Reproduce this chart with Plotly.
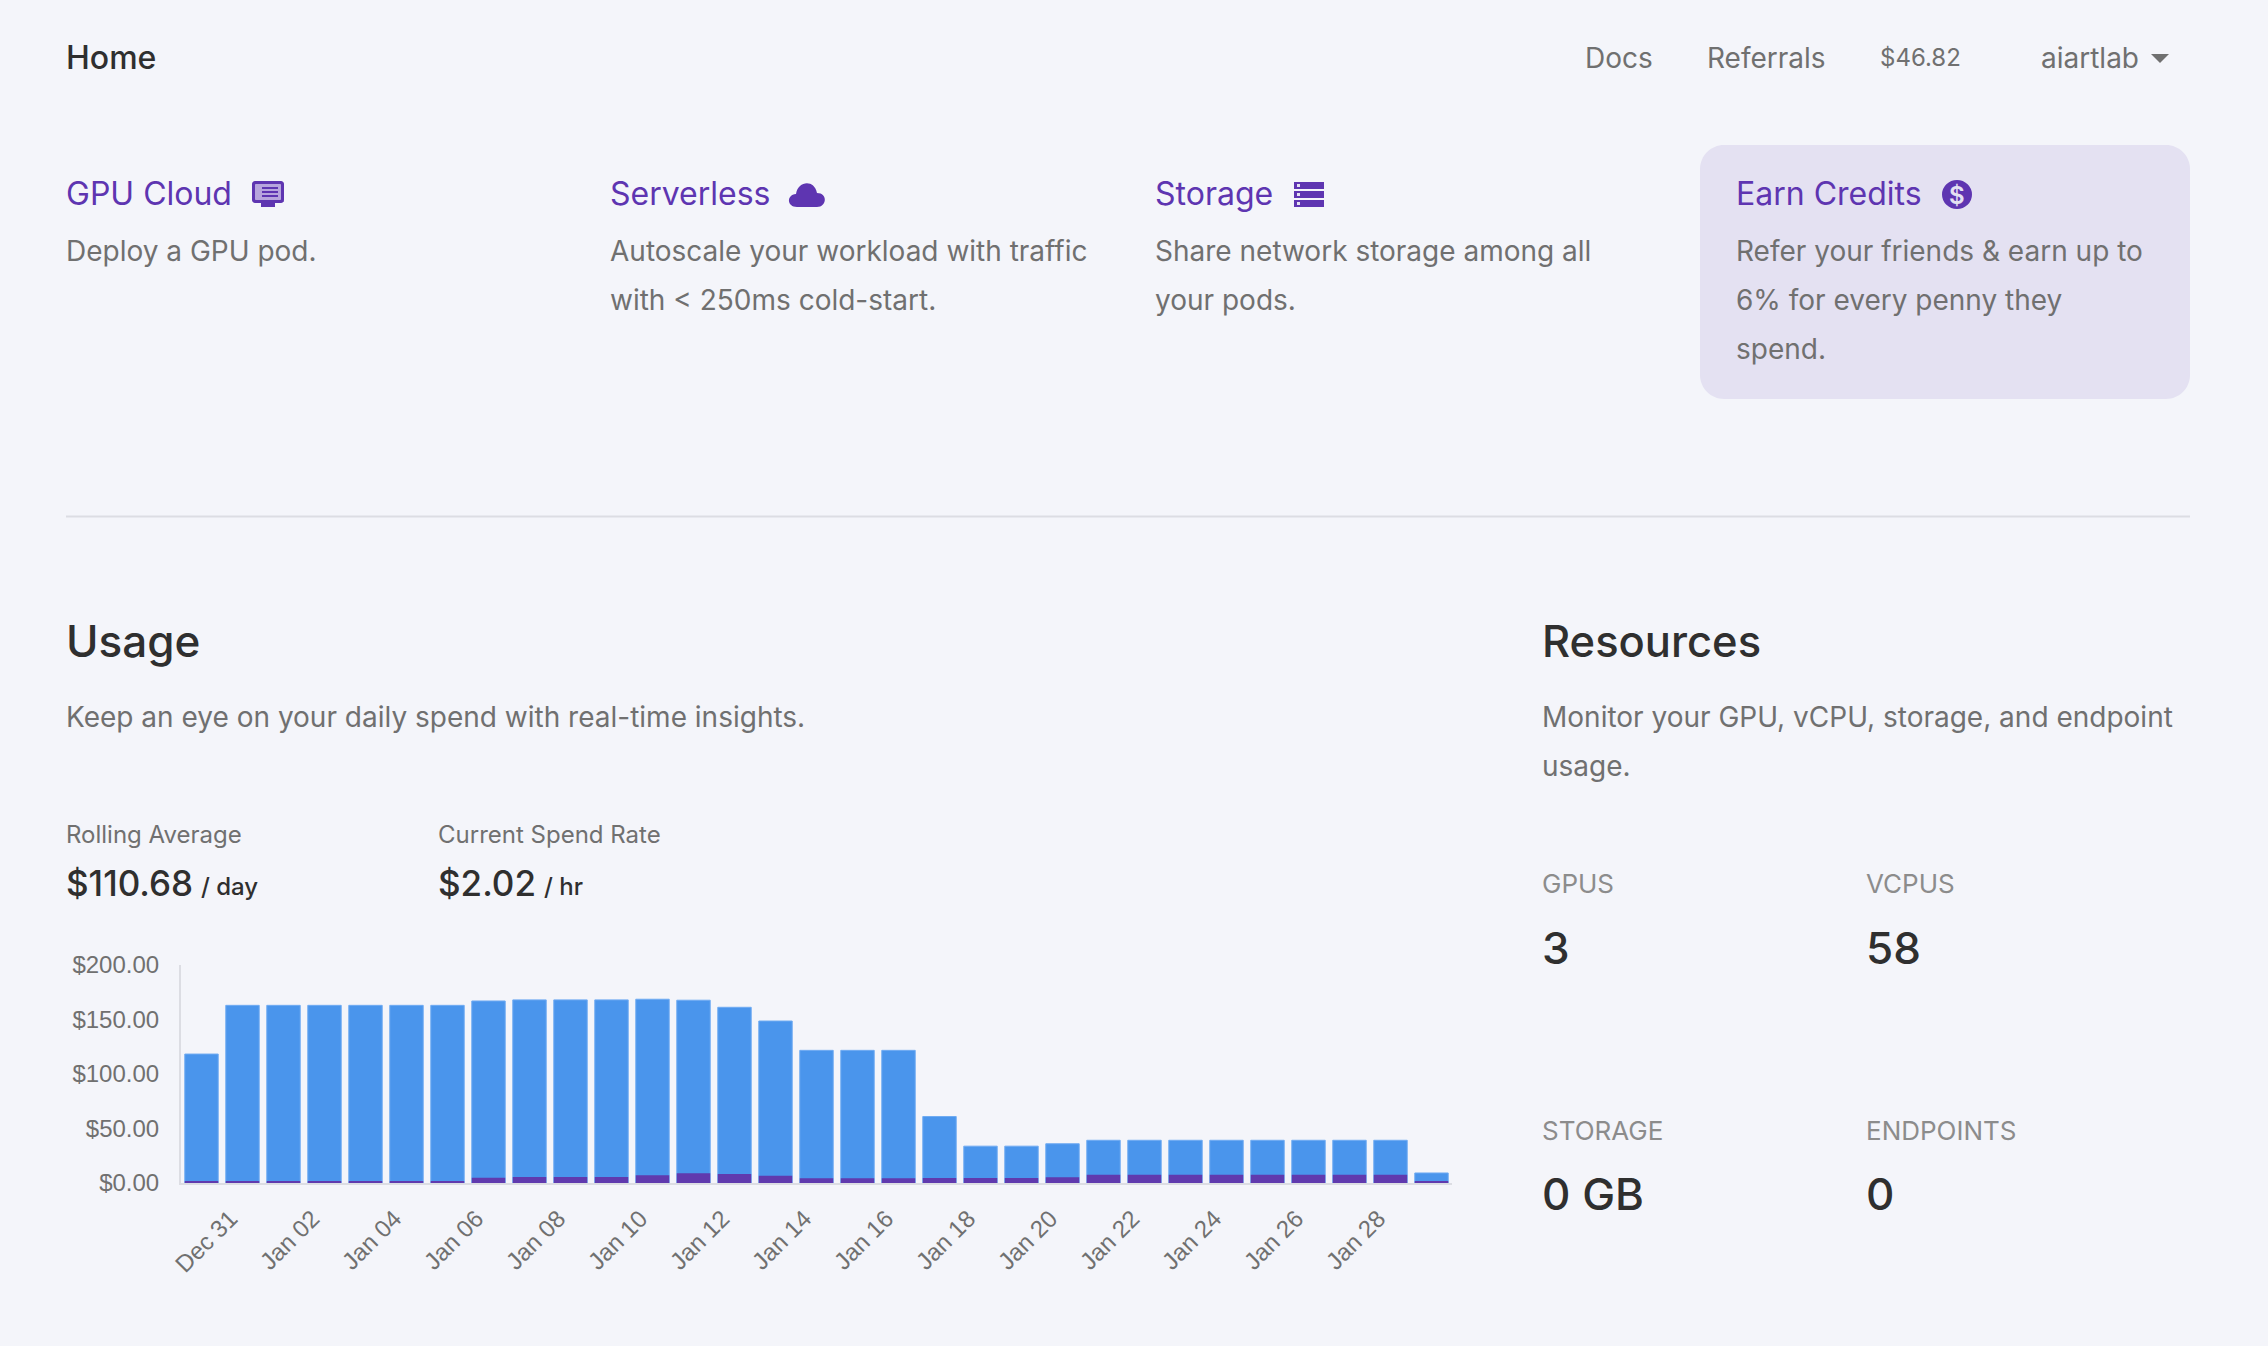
import plotly.graph_objects as go

W, H = 2268, 1346
BG = "#f4f5fa"
PURPLE = "#5e35b1"
BAR_PURPLE = "#603aae"
BLUE = "#4a95ec"
GREY = "#707070"
DARK = "#2f2f2f"
LINE = "#dcdde3"
FONT = "Inter"

days = ["Dec 30", "Dec 31"] + ["Jan %02d" % d for d in range(1, 30)]
tick_days = ["Dec 31"] + ["Jan %02d" % d for d in range(2, 29, 2)]
totals = [118.3, 163, 163, 163, 163, 163, 163, 167, 168, 168, 168, 168.6, 167.7, 161.2, 148.6, 121.7,
          121.7, 121.7, 61, 33.8, 33.8, 36, 39.2, 39.2, 39.2, 39.2, 39.2, 39.2, 39.2, 39.2, 9.2]
purple_part = [1.8, 1.8, 1.8, 1.8, 1.8, 1.8, 1.8, 4.9, 5.5, 5.5, 5.5, 7, 8.9, 8.3, 6.7, 4.3,
               4.3, 4.3, 4.6, 4.6, 4.6, 5.2, 7.6, 7.6, 7.6, 7.6, 7.6, 7.6, 7.6, 7.6, 1.8]


def px(x):
    return x / W


def py(y):
    return 1 - y / H


def label(x, y, text, size, color=GREY, weight=400, family=FONT):
    fig.add_annotation(xref="paper", yref="paper", x=px(x), y=py(y), text=text, showarrow=False,
                       xanchor="left", yanchor="middle", align="left",
                       font=dict(family=family, size=size, color=color, weight=weight),
                       borderpad=0, borderwidth=0)


def path_shape(d, fill, line=None):
    # d is written in page pixels, converted here to paper coords
    out = []
    for tok in d.split():
        if "," in tok:
            a, b = tok.split(",")
            out.append("%.5f,%.5f" % (px(float(a)), py(float(b))))
        else:
            out.append(tok)
    fig.add_shape(type="path", xref="paper", yref="paper", path=" ".join(out), fillcolor=fill,
                  line=dict(width=0 if line is None else 2, color=line or fill), layer="below")


def box(x0, y0, x1, y1, fill):
    fig.add_shape(type="rect", xref="paper", yref="paper", x0=px(x0), x1=px(x1), y0=py(y0), y1=py(y1),
                  fillcolor=fill, line=dict(width=0), layer="below")


def rounded(x0, y0, x1, y1, r, fill):
    k = r * 0.45
    path_shape(f"M {x0+r},{y0} L {x1-r},{y0} C {x1-k},{y0} {x1},{y0+k} {x1},{y0+r} "
               f"L {x1},{y1-r} C {x1},{y1-k} {x1-k},{y1} {x1-r},{y1} "
               f"L {x0+r},{y1} C {x0+k},{y1} {x0},{y1-k} {x0},{y1-r} "
               f"L {x0},{y0+r} C {x0},{y0+k} {x0+k},{y0} {x0+r},{y0} Z", fill)


# blue goes first and purple over it, so the outline of the blue bar does not eat the thin purple ones
fig = go.Figure()
fig.add_trace(go.Bar(x=days, y=totals, name="Total", marker=dict(color=BLUE, line=dict(width=1, color="#6fabf2"))))
fig.add_trace(go.Bar(x=days, y=purple_part, name="Serverless", marker=dict(color=BAR_PURPLE, line=dict(width=0))))

fig.update_layout(
    width=W, height=H, margin=dict(l=0, r=0, t=0, b=0), paper_bgcolor=BG, plot_bgcolor=BG,
    barmode="overlay", bargap=0.185, showlegend=False,
    xaxis=dict(domain=[px(181), px(1452)], type="category", categoryorder="array", categoryarray=days,
               range=[-0.5, 30.5], tickmode="array", tickvals=tick_days, ticktext=tick_days, tickangle=-45,
               tickfont=dict(family="Liberation Sans", size=24, color=GREY), ticks="outside", ticklen=10,
               ticklabelshift=-12, automargin=False, layer="below traces",
               tickcolor="rgba(0,0,0,0)", showgrid=False, showline=True, linecolor=LINE, linewidth=2, zeroline=False),
    yaxis=dict(domain=[py(1183), py(965)], range=[0, 200], tickvals=[0, 50, 100, 150, 200], tickformat="$,.2f",
               tickfont=dict(family="Liberation Sans", size=24, color=GREY), ticks="outside", ticklen=15,
               automargin=False, layer="below traces",
               tickcolor="rgba(0,0,0,0)", showgrid=False, showline=True, linecolor=LINE, linewidth=2, zeroline=False),
)

# top bar
label(65.5, 58, "Home", 32, DARK, 500)
label(1585, 58, "Docs", 28)
label(1707, 58, "Referrals", 28)
label(1880, 58, "$46.82", 24)
label(2041, 58, "aiartlab", 28)
path_shape("M 2151,54 L 2169,54 L 2160,63 Z", GREY)

# cards
rounded(1700, 145, 2190, 399, 24, "#e4e1f2")
label(65.5, 194, "GPU Cloud", 32, PURPLE)
label(610, 194, "Serverless", 32, PURPLE)
label(1155, 194, "Storage", 32, PURPLE)
label(1736, 194, "Earn Credits", 32, PURPLE)
label(65.5, 251, "Deploy a GPU pod.", 28)
label(610, 251, "Autoscale your workload with traffic", 28)
label(610, 300, "with &lt; 250ms cold-start.", 28)
label(1155, 251, "Share network storage among all", 28)
label(1155, 300, "your pods.", 28)
label(1736, 251, "Refer your friends &amp; earn up to", 28)
label(1736, 300, "6% for every penny they", 28)
label(1736, 349, "spend.", 28)

# card icons
rounded(252, 181, 284, 203, 3, PURPLE)
rounded(255, 184, 281, 200, 1, "#b7a5dd")
box(261, 203, 275, 207, PURPLE)
box(262, 187, 278, 189, PURPLE)
box(262, 191, 278, 193, PURPLE)
box(262, 195, 278, 197, PURPLE)
path_shape("M 797,207 C 787,207 786,195 796,194 C 798,181 814,179 817,193 C 828,193 827,207 817,207 Z", PURPLE)
for top in (182, 191, 200):
    box(1294, top, 1324, top + 7, PURPLE)
    box(1297, top + 2, 1300, top + 5, "#e4e1f2")
fig.add_shape(type="circle", xref="paper", yref="paper", x0=px(1942), x1=px(1972), y0=py(180), y1=py(209),
              fillcolor=PURPLE, line=dict(width=0), layer="below")
fig.add_annotation(xref="paper", yref="paper", x=px(1957), y=py(195), text="$", showarrow=False,
                   xanchor="center", yanchor="middle",
                   font=dict(family=FONT, size=24, color="#e4e1f2", weight=600))

box(66, 515.5, 2190, 517.5, LINE)

# usage
label(65.5, 641, "Usage", 44, DARK, 500)
label(65.5, 717, "Keep an eye on your daily spend with real-time insights.", 28)
label(65.5, 834, "Rolling Average", 24)
label(438, 834, "Current Spend Rate", 24)
label(65.5, 883, "$110.68", 35, DARK, 500)
label(201, 886, "/ day", 24, DARK, 500)
label(438, 883, "$2.02", 35, DARK, 500)
label(544, 886, "/ hr", 24, DARK, 500)

# resources
label(1542, 641, "Resources", 43.5, DARK, 500)
label(1542, 717, "Monitor your GPU, vCPU, storage, and endpoint", 28)
label(1542, 766, "usage.", 28)
label(1542, 883, "GPUS", 26, "#8c8c8c")
label(1866, 883, "VCPUS", 26, "#8c8c8c")
label(1542, 948, "3", 44, DARK, 500)
label(1866, 948, "58", 44, DARK, 500)
label(1542, 1130, "STORAGE", 26, "#8c8c8c")
label(1866, 1130, "ENDPOINTS", 26, "#8c8c8c")
label(1542, 1194, "0 GB", 44, DARK, 500)
label(1866, 1194, "0", 44, DARK, 500)

# the default page keeps a white 8px body margin around the figure
fig.write_html("out.html", config=dict(displayModeBar=False),
               post_script=f"document.body.style.margin='0';document.body.style.background='{BG}';")
